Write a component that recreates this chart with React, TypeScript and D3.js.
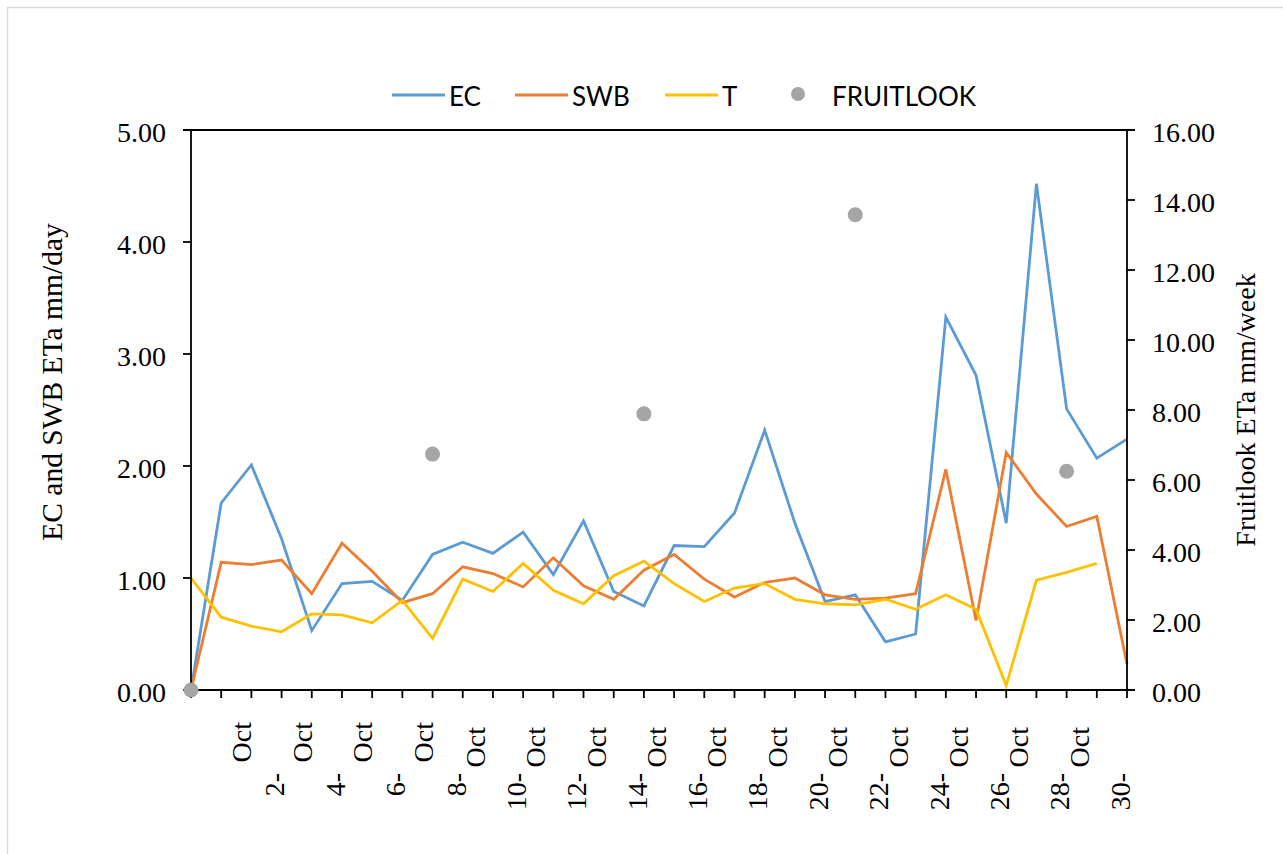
import React from "react";
import * as d3 from "d3";

// ---- data (index 0..31 = days of the period) ----
const dayIndex: number[] = d3.range(0, 32);
const ecValues: number[] = [0, 1.67, 2.01, 1.35, 0.53, 0.95, 0.97, 0.8, 1.21, 1.32, 1.22, 1.41, 1.03, 1.51, 0.88, 0.75, 1.29, 1.28, 1.58, 2.32, 1.49, 0.79, 0.85, 0.43, 0.5, 3.33, 2.81, 1.49, 4.52, 2.51, 2.07, 2.24];
const swbValues: number[] = [0, 1.14, 1.12, 1.16, 0.86, 1.31, 1.06, 0.78, 0.86, 1.1, 1.04, 0.92, 1.18, 0.93, 0.81, 1.07, 1.21, 0.99, 0.83, 0.96, 1.0, 0.85, 0.81, 0.82, 0.86, 1.97, 0.62, 2.12, 1.75, 1.46, 1.55, 0.23];
const tValues: (number | null)[] = [1.0, 0.65, 0.57, 0.52, 0.68, 0.67, 0.6, 0.8, 0.46, 0.99, 0.88, 1.13, 0.89, 0.77, 1.02, 1.15, 0.95, 0.79, 0.91, 0.95, 0.81, 0.77, 0.76, 0.81, 0.72, 0.85, 0.72, 0.04, 0.98, 1.05, 1.13, null];
const fruitlookDays: number[] = [0, 8, 15, 22, 29];
const fruitlookValues: number[] = [0, 6.74, 7.89, 13.58, 6.25];

const xLabelDays: number[] = [2, 4, 6, 8, 10, 12, 14, 16, 18, 20, 22, 24, 26, 28, 30];
const xLabels: string[] = ["2-Oct", "4-Oct", "6-Oct", "8-Oct", "10-Oct", "12-Oct", "14-Oct", "16-Oct", "18-Oct", "20-Oct", "22-Oct", "24-Oct", "26-Oct", "28-Oct", "30-Oct"];
const leftTicks: number[] = [0, 1, 2, 3, 4, 5];
const rightTicks: number[] = [0, 2, 4, 6, 8, 10, 12, 14, 16];

const seriesNames: string[] = ["EC", "SWB", "T", "FRUITLOOK"];
const seriesColors: string[] = ["#5B9BD5", "#ED7D31", "#FFC000", "#A5A5A5"];

const W = 1283;
const H = 854;
const serif = "'Liberation Serif', 'Times New Roman', serif";
const sans = "Lato, 'Open Sans', sans-serif";

export default function App() {
  const left = 191, right = 1127, top = 130, bottom = 690;
  const x = d3.scaleLinear().domain([0, 31]).range([left, right]);
  const yL = d3.scaleLinear().domain([0, 5]).range([bottom, top]);
  const yR = d3.scaleLinear().domain([0, 16]).range([bottom, top]);

  const mk = (vals: (number | null)[]) =>
    d3
      .line<number>()
      .defined((i) => vals[i] !== null && vals[i] !== undefined)
      .x((i) => x(i))
      .y((i) => yL(vals[i] as number))(dayIndex) || "";

  const lines = [ecValues, swbValues, tValues];
  const legendX = [392, 515, 665, 790];
  const legendY = 95;
  const axisW = 1.8;
  const fs = 28;

  return (
    <svg width={W} height={H} style={{ position: "absolute", left: 0, top: 0, background: "#fff" }}>
      <rect x={0} y={0} width={W} height={H} fill="#fff" />
      <rect x={7.5} y={7.5} width={W + 20} height={H + 20} fill="none" stroke="#D9D9D9" strokeWidth={1.5} />

      {/* legend */}
      {seriesNames.map((name, k) => {
        const lx = legendX[k];
        return (
          <g key={name}>
            {k < 3 ? (
              <line x1={lx} x2={lx + 53} y1={legendY} y2={legendY} stroke={seriesColors[k]} strokeWidth={3} />
            ) : (
              <circle cx={lx + 8} cy={legendY - 1} r={7} fill={seriesColors[k]} />
            )}
            <text x={k < 3 ? lx + 57 : lx + 42} y={legendY + 11} fontFamily={sans} fontSize={26} fill="#000">
              {name}
            </text>
          </g>
        );
      })}

      {/* series lines */}
      {lines.map((vals, k) => (
        <path key={k} d={mk(vals)} fill="none" stroke={seriesColors[k]} strokeWidth={2.8} strokeLinejoin="miter" />
      ))}

      {/* axes */}
      <line x1={left - 8} x2={right + 8} y1={top} y2={top} stroke="#000" strokeWidth={axisW} />
      <line x1={left} x2={left} y1={top} y2={bottom + 8} stroke="#000" strokeWidth={axisW} />
      <line x1={right} x2={right} y1={top} y2={bottom} stroke="#000" strokeWidth={axisW} />
      <line x1={left} x2={right + 8} y1={bottom} y2={bottom} stroke="#000" strokeWidth={axisW} />

      {leftTicks.map((v) => (
        <g key={"l" + v}>
          <line x1={left - 8} x2={left} y1={yL(v)} y2={yL(v)} stroke="#000" strokeWidth={axisW} />
          <text x={166} y={yL(v) + 11.5} textAnchor="end" fontFamily={serif} fontSize={fs}>
            {v.toFixed(2)}
          </text>
        </g>
      ))}
      {rightTicks.map((v) => (
        <g key={"r" + v}>
          <line x1={right} x2={right + 8} y1={yR(v)} y2={yR(v)} stroke="#000" strokeWidth={axisW} />
          <text x={1152} y={yR(v) + 11.5} textAnchor="start" fontFamily={serif} fontSize={fs}>
            {v.toFixed(2)}
          </text>
        </g>
      ))}
      {dayIndex.map((i) => (
        <line key={"t" + i} x1={x(i)} x2={x(i)} y1={bottom} y2={bottom + 8} stroke="#000" strokeWidth={axisW} />
      ))}

      {/* x labels */}
      {xLabels.map((lab, k) => {
        const i = xLabelDays[k];
        const parts = lab.split("-");
        const num = parts[0] + "-";
        const mon = parts[1];
        const twoDigit = parts[0].length > 1;
        const monX = x(i) - (twoDigit ? 8 : 0);
        const monY = twoDigit ? 727 : 722;
        return (
          <g key={lab} fontFamily={serif} fontSize={fs}>
            <text transform={`translate(${monX},${monY}) rotate(-90)`} textAnchor="end">
              {mon}
            </text>
            <text transform={`translate(${x(i) + 33},773) rotate(-90)`} textAnchor="end">
              {num}
            </text>
          </g>
        );
      })}

      {/* axis titles */}
      <text transform="translate(62,382) rotate(-90)" textAnchor="middle" fontFamily={serif} fontSize={29.5}>
        EC and SWB ETa mm/day
      </text>
      <text transform="translate(1255,410) rotate(-90)" textAnchor="middle" fontFamily={serif} fontSize={28}>
        Fruitlook ETa mm/week
      </text>

      {/* fruitlook points */}
      {fruitlookDays.map((d, k) => (
        <circle key={"f" + d} cx={x(d)} cy={yR(fruitlookValues[k])} r={7.5} fill={seriesColors[3]} />
      ))}
    </svg>
  );
}
